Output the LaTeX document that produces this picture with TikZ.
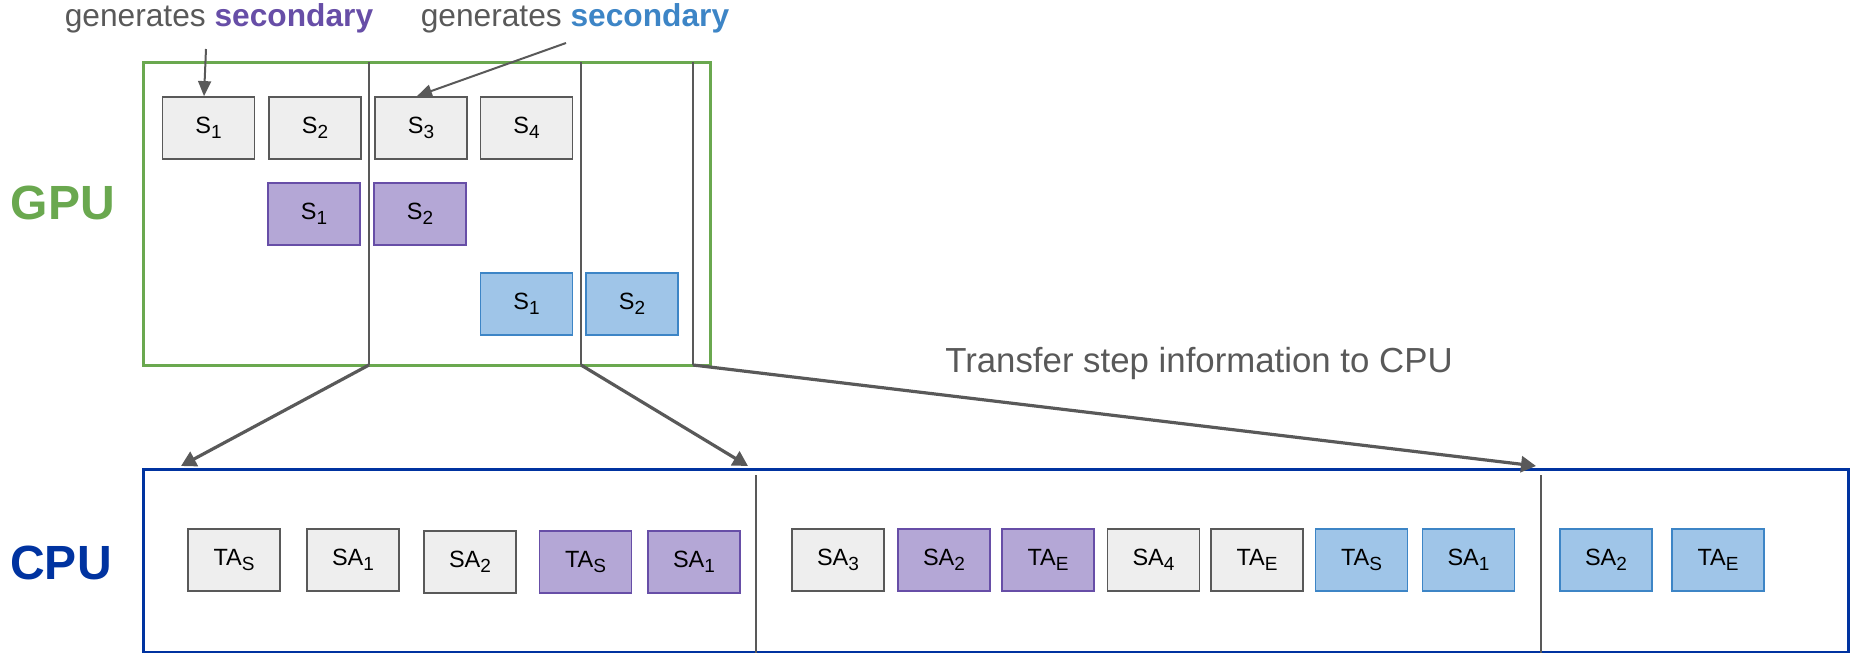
\documentclass[tikz,border=0pt]{standalone}
\usepackage{fontspec}
\setmainfont{Liberation Sans}
\usetikzlibrary{arrows.meta}
\definecolor{grayfill}{HTML}{EEEEEE}
\definecolor{grayline}{HTML}{595959}
\definecolor{purfill}{HTML}{B4A7D6}
\definecolor{purline}{HTML}{674EA7}
\definecolor{bluefill}{HTML}{9FC5E8}
\definecolor{blueline}{HTML}{3D85C6}
\definecolor{gpugreen}{HTML}{6AA84F}
\definecolor{cpublue}{HTML}{0033A0}
\newcommand\lsub[1]{\raisebox{-5.5pt}{\fontsize{19}{19}\selectfont #1}}
\begin{document}
\begin{tikzpicture}[x=1pt,y=-1pt,
 box/.style={draw, line width=1.8pt, minimum width=92pt, minimum height=62pt, inner sep=0pt, font=\fontsize{23.5}{28}\selectfont},
 gbox/.style={box, draw=grayline, fill=grayfill},
 pbox/.style={box, draw=purline, fill=purfill},
 bbox/.style={box, draw=blueline, fill=bluefill},
 arr/.style={draw=grayline, line width=3.2pt, -{Triangle[length=15pt,width=16pt]}},
 sarr/.style={draw=grayline, line width=2pt, -{Triangle[length=15pt,width=13pt]}},
 divider/.style={draw=grayline, line width=1.5pt},
 note/.style={text=grayline, inner sep=0pt, anchor=base},
 biglabel/.style={font=\bfseries\fontsize{48}{52}\selectfont, inner sep=0pt},
 ]
\useasboundingbox (0,0) rectangle (1852,653);

% GPU and CPU frames
\node[draw=gpugreen, line width=3pt, minimum width=566.5pt, minimum height=303pt, inner sep=0pt] (gpu) at (426.75,213.5) {};
\node[draw=cpublue, line width=3pt, minimum width=1705pt, minimum height=183pt, inner sep=0pt] (cpu) at (995.5,560.5) {};

\node[biglabel, text=gpugreen] (gpulabel) at (63,203) {GPU};
\node[biglabel, text=cpublue] (cpulabel) at (61,563) {CPU};

% GPU dividers
\coordinate (g1t) at (369,62);  \coordinate (g1b) at (369,365);
\coordinate (g2t) at (581,62);  \coordinate (g2b) at (581,365);
\coordinate (g3t) at (693,62);  \coordinate (g3b) at (693,365);
\draw[divider] (g1t) -- (g1b);
\draw[divider] (g2t) -- (g2b);
\draw[divider] (g3t) -- (g3b);

% CPU dividers
\coordinate (c1t) at (756,475);  \coordinate (c1b) at (756,653);
\coordinate (c2t) at (1541,475); \coordinate (c2b) at (1541,653);
\draw[divider] (c1t) -- (c1b);
\draw[divider] (c2t) -- (c2b);

% GPU steps
\node[gbox] (s1) at (208.5,128) {S\lsub{1}};
\node[gbox] (s2) at (315,128) {S\lsub{2}};
\node[gbox] (s3) at (421,128) {S\lsub{3}};
\node[gbox] (s4) at (526.5,128) {S\lsub{4}};
\node[pbox] (ps1) at (314,214) {S\lsub{1}};
\node[pbox] (ps2) at (420,214) {S\lsub{2}};
\node[bbox] (bs1) at (526.5,304) {S\lsub{1}};
\node[bbox] (bs2) at (632,304) {S\lsub{2}};

% CPU actions
\node[gbox] (a1) at (234,560) {TA\lsub{S}};
\node[gbox] (a2) at (353,560) {SA\lsub{1}};
\node[gbox] (a3) at (470,562) {SA\lsub{2}};
\node[pbox] (a4) at (585.5,562) {TA\lsub{S}};
\node[pbox] (a5) at (694,562) {SA\lsub{1}};
\node[gbox] (a6) at (838,560) {SA\lsub{3}};
\node[pbox] (a7) at (944,560) {SA\lsub{2}};
\node[pbox] (a8) at (1048,560) {TA\lsub{E}};
\node[gbox] (a9) at (1153.5,560) {SA\lsub{4}};
\node[gbox] (a10) at (1257,560) {TA\lsub{E}};
\node[bbox] (a11) at (1361.5,560) {TA\lsub{S}};
\node[bbox] (a12) at (1468.5,560) {SA\lsub{1}};
\node[bbox] (a13) at (1606,560) {SA\lsub{2}};
\node[bbox] (a14) at (1718,560) {TA\lsub{E}};

% annotations
\node[note, font=\fontsize{31.7}{36}\selectfont] (t1) at (219,27) {generates \textcolor{purline}{\textbf{secondary}}};
\node[note, font=\fontsize{31.7}{36}\selectfont] (t2) at (575,27) {generates \textcolor{blueline}{\textbf{secondary}}};
\node[note, font=\fontsize{34.8}{40}\selectfont] (tr) at (1199,372) {Transfer step information to CPU};

\coordinate (a1s) at (206,49);
\coordinate (a2s) at (566,43);
\draw[sarr] (a1s) -- ([xshift=-4.5pt]s1.north);
\draw[sarr] (a2s) -- ([xshift=-4pt]s3.north);

% transfer arrows
\coordinate (ca) at (181,466);
\coordinate (cb) at (748,466);
\coordinate (cc) at (1536,466);
\draw[arr] (g1b) -- (ca);
\draw[arr] (g2b) -- (cb);
\draw[arr] (g3b) -- (cc);
\end{tikzpicture}
\end{document}
